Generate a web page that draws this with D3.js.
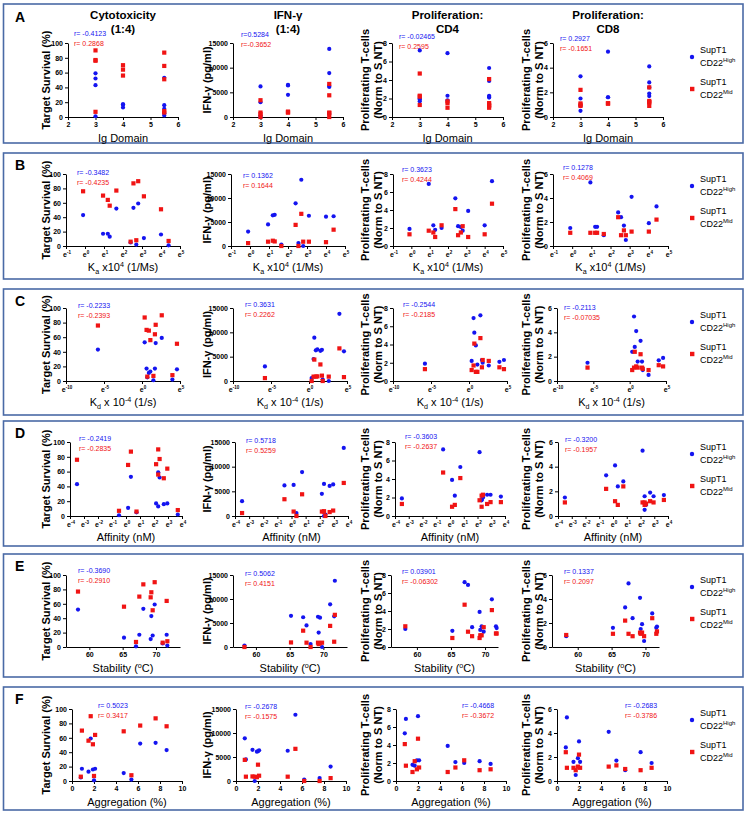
<!DOCTYPE html>
<html><head><meta charset="utf-8">
<script src="https://cdn.jsdelivr.net/npm/d3@7"></script>
<style>body{margin:0;background:#fff}svg{display:block}</style>
</head><body>
<svg id="c" width="750" height="813"></svg>
<script>
// ---- binder properties (12 binders, b1..b12) ----
const igDomain    = [5.5, 4, 4, 3, 5.5, 3, 4, 5.5, 5.5, 3, 5.5, 3];
const kaExp       = [2.4, 0.95, 1.3, 2.8, 4.0, 4.4, 1.2, 3.1, 2.7, 1.65, 2.55, -0.1];   // Ka x10^4 = e^kaExp
const kdExp       = [0.7, 0.6, 1.1, 2.6, 4.6, 1.5, 1.7, 0.9, 4.0, 1.8, 0.35, -5.8];    // Kd x10^-4 = e^kdExp
const affinityExp = [0.75, 2.15, 2.3, 2.3, 2.7, -0.5, 2.95, 0.15, 3.7, 2.4, 0.35, -3.5]; // nM = e^affinityExp
const stability   = [71.0, 67.5, 65.2, 69.8, 69.5, 67.0, 71.6, 69.2, 71.7, 58.3, 68.1, 69.3];
const aggregation = [0.8, 0.9, 1.5, 1.7, 1.9, 2.0, 2.1, 4.7, 5.4, 6.2, 7.6, 8.6];

// ---- responses: SupT1 CD22High (blue) and CD22Mid (red) ----
const survivalHigh = [5, 17, 13, 59, 16, 1, 17, 11, 2, 52, 53, 43];
const survivalMid  = [6, 70, 56, 90, 51, 7, 64, 69, 8, 77, 87, 76];
const ifnHigh      = [8900, 4500, 6500, 0, 6100, 6200, 6400, 6300, 13800, 300, 600, 3000];
const ifnMid       = [4400, 900, 950, 900, 800, 3400, 1100, 900, 6700, 0, 0, 600];
const cd4High      = [5.3, 6.9, 1.8, 1.7, 2.3, 7.2, 2.3, 3.9, 2.1, 2.0, 2.2, 1.9];
const cd4Mid       = [4.1, 1.7, 1.0, 2.2, 1.3, 4.7, 1.5, 1.0, 1.5, 2.3, 1.2, 1.3];
const cd8High      = [2.8, 5.3, 1.6, 0.5, 1.9, 3.3, 1.6, 4.1, 1.7, 0.9, 2.4, 1.5];
const cd8Mid       = [2.4, 1.1, 1.1, 0.9, 1.2, 2.2, 1.1, 1.2, 1.3, 1.0, 0.9, 1.1];

// ---- correlation labels per row (A..F) x column ----
const rHighLabels = [
  ["r= -0.4123", "r=0.5284", "r= -0.02465", "r= 0.2927"],
  ["r= -0.3482", "r= 0.1362", "r= 0.3623", "r= 0.1278"],
  ["r= -0.2233", "r= 0.3631", "r= -0.2544", "r= -0.2113"],
  ["r= -0.2419", "r= 0.5718", "r= -0.3603", "r= -0.3200"],
  ["r= -0.3690", "r= 0.5062", "r= 0.03901", "r= 0.1337"],
  ["r= 0.5023", "r= -0.2678", "r= -0.4668", "r= -0.2683"]
];
const rMidLabels = [
  ["r= 0.2868", "r=-0.3652", "r= 0.2595", "r= -0.1651"],
  ["r= -0.4235", "r= 0.1644", "r= 0.4244", "r= 0.4069"],
  ["r= -0.2393", "r= 0.2262", "r= -0.2185", "r= -0.07035"],
  ["r= -0.2835", "r= 0.5259", "r= -0.2637", "r= -0.1957"],
  ["r= -0.2910", "r= 0.4151", "r= -0.06302", "r= 0.2097"],
  ["r= 0.3417", "r= -0.1575", "r= -0.3672", "r= -0.3786"]
];

const rowLetters = ["A", "B", "C", "D", "E", "F"];
const colTitles = [["Cytotoxicity", "(1:4)"], ["IFN-γ", "(1:4)"], ["Proliferation:", "CD4"], ["Proliferation:", "CD8"]];
const igTicks = [2, 3, 4, 5, 6];
const kaTickExps = [-1, 0, 1, 2, 3, 4, 5];
const kdTickExps = [-10, -5, 0, 5];
const affTickExps = [-4, -3, -2, -1, 0, 1, 2, 3, 4];
const stabTicks = [60, 65, 70];
const aggTicks = [0, 2, 4, 6, 8, 10];
const survTicks = [0, 20, 40, 60, 80, 100];
const ifnTicks = [0, 5000, 10000, 15000];
const cd4Ticks = [0, 2, 4, 6, 8];
const cd8Ticks = [0, 2, 4, 6];

// ---- layout ----
const FONT = "'Liberation Sans', Arial, Helvetica, sans-serif";
const BLUE = "#1414f0", RED = "#f01414", BOX = "#4a6aa6";
const boxes = [[4, 143], [153, 279], [289, 415], [421, 546], [554, 677], [687, 810]];
const rowsY = [[43, 117], [174, 246], [308, 381], [442, 516], [575, 647], [709, 781]];
const colsX = [
  [[68, 178], [233, 343], [392, 503], [553, 663]],
  [[66, 180], [231, 345], [393, 503], [553, 668]],
  [[66, 180], [233, 347], [393, 507], [557, 666]],
  [[70, 182], [235, 348], [395, 505], [558, 668]],
  [[66, 180], [233, 347], [391, 498], [552, 659]],
  [[72, 182], [236, 346], [396, 506], [557, 667]]
];
const yTitleX = [[46], [207], [365, 378], [526, 539]];
const rPos = [
  [[74, 34], [241, 35], [399, 37], [560, 39]],
  [[77, 173], [243, 176], [402, 170], [563, 168]],
  [[78, 306], [245, 305], [403, 305], [564, 308]],
  [[79, 439], [246, 441], [405, 437], [565, 440]],
  [[78, 571], [245, 574], [402, 572], [564, 572]],
  [[98, 706], [245, 707], [462, 706], [625, 706]]
];

const rowsDef = [
  { x: igDomain, type: "lin", domain: [2, 6], ticks: igTicks, title: [["Ig Domain"]] },
  { x: kaExp.map(Math.exp), type: "log", domain: [Math.exp(-1), Math.exp(5)], ticks: kaTickExps,
    title: [["K"], ["a", "sub"], [" x10"], ["4", "sup"], [" (1/Ms)"]] },
  { x: kdExp.map(Math.exp), type: "log", domain: [Math.exp(-10), Math.exp(5)], ticks: kdTickExps,
    title: [["K"], ["d", "sub"], [" x 10"], ["-4", "sup"], [" (1/s)"]] },
  { x: affinityExp.map(Math.exp), type: "log", domain: [Math.exp(-4), Math.exp(4)], ticks: affTickExps,
    title: [["Affinity (nM)"]] },
  { x: stability, type: "lin", domain: [[56.5, 73.6], [56.6, 73.5], [56.2, 71.9], [56.2, 72.0]], ticks: stabTicks,
    title: [["Stability ("], ["o", "sup"], ["C)"]] },
  { x: aggregation, type: "lin", domain: [0, 10], ticks: aggTicks, title: [["Aggregation (%)"]] }
];
const colsDef = [
  { high: survivalHigh, mid: survivalMid, max: 100, ticks: survTicks, ytitle: ["Target Survival (%)"] },
  { high: ifnHigh, mid: ifnMid, max: 15000, ticks: ifnTicks, ytitle: ["IFN-γ (pg/ml)"] },
  { high: cd4High, mid: cd4Mid, max: 8, ticks: cd4Ticks, ytitle: ["Proliferating T-cells", "(Norm to S NT)"] },
  { high: cd8High, mid: cd8Mid, max: 6, ticks: cd8Ticks, ytitle: ["Proliferating T-cells", "(Norm to S NT)"] }
];

const svg = d3.select("#c").attr("font-family", FONT);
const fmtInt = d3.format("d");

function richText(g, parts, size) {
  let shift = 0;
  parts.forEach(p => {
    const t = g.append("tspan").text(p[0]);
    let target = 0;
    if (p[1] === "sup") { t.attr("font-size", size * 0.65); target = -size * 0.4; }
    else if (p[1] === "sub") { t.attr("font-size", size * 0.65); target = size * 0.25; }
    else t.attr("font-size", size);
    if (target - shift !== 0) t.attr("dy", target - shift);
    shift = target;
  });
}

rowsDef.forEach((row, ri) => {
  const [bt, bb] = boxes[ri];
  svg.append("rect").attr("x", 3.5).attr("y", bt).attr("width", 739.5).attr("height", bb - bt)
    .attr("fill", "none").attr("stroke", BOX).attr("stroke-width", 1.6);
  svg.append("text").attr("x", 15).attr("y", bt + (ri === 0 ? 18 : 17)).attr("font-size", 14)
    .attr("font-weight", "bold").text(rowLetters[ri]);

  const [yt, yb] = rowsY[ri];
  colsDef.forEach((col, ci) => {
    const [x0, x1] = colsX[ri][ci];
    const dom = Array.isArray(row.domain[0]) ? row.domain[ci] : row.domain;
    const xs = (row.type === "log" ? d3.scaleLog().base(Math.E) : d3.scaleLinear()).domain(dom).range([x0, x1]);
    const ys = d3.scaleLinear().domain([0, col.max]).range([yb, yt]);
    const g = svg.append("g");

    // y axis
    const ya = g.append("g").attr("transform", `translate(${x0},0)`)
      .call(d3.axisLeft(ys).tickValues(col.ticks).tickFormat(fmtInt).tickSize(3).tickSizeOuter(0).tickPadding(2));
    ya.selectAll("text").attr("font-size", 7).attr("font-weight", "bold").attr("font-family", FONT).attr("fill", "#000");
    ya.selectAll("line,path").attr("stroke", "#000");

    // x axis
    const tickVals = row.type === "log" ? row.ticks.map(Math.exp) : row.ticks;
    const xa = g.append("g").attr("transform", `translate(0,${yb})`)
      .call(d3.axisBottom(xs).tickValues(tickVals).tickSize(3).tickSizeOuter(0)
        .tickFormat(row.type === "log" ? () => "" : fmtInt).tickPadding(2));
    xa.selectAll("text").attr("font-size", 7).attr("font-weight", "bold").attr("font-family", FONT).attr("fill", "#000");
    xa.selectAll("line,path").attr("stroke", "#000");
    if (row.type === "log") {
      row.ticks.forEach(k => {
        const t = g.append("text").attr("x", xs(Math.exp(k)) + 1).attr("y", yb + 11)
          .attr("font-size", 7).attr("font-weight", "bold").attr("text-anchor", "middle");
        t.append("tspan").text("e");
        t.append("tspan").attr("font-size", 4.5).attr("dy", -3).text(k);
      });
    }

    // x title
    const xt = g.append("text").attr("x", (x0 + x1) / 2).attr("y", yb + 25).attr("text-anchor", "middle");
    richText(xt, row.title, 11);

    // y title
    const ycy = (yt + yb) / 2;
    col.ytitle.forEach((line, li) => {
      g.append("text").attr("transform", `translate(${yTitleX[ci][li]},${ycy}) rotate(-90)`)
        .attr("text-anchor", "middle").attr("dy", "0.35em").attr("font-size", 11)
        .attr("font-weight", "bold").text(line);
    });

    // column titles (row A only)
    if (ri === 0) {
      colTitles[ci].forEach((tl, li) => {
        g.append("text").attr("x", (x0 + x1) / 2).attr("y", 19 + li * 14).attr("text-anchor", "middle")
          .attr("font-size", 11.5).attr("font-weight", "bold").text(tl);
      });
    }

    // r labels
    const [rx, ry] = rPos[ri][ci];
    g.append("text").attr("x", rx).attr("y", ry).attr("dy", "0.35em").attr("font-size", 7).attr("fill", BLUE).text(rHighLabels[ri][ci]);
    g.append("text").attr("x", rx).attr("y", ry + 9.5).attr("dy", "0.35em").attr("font-size", 7).attr("fill", RED).text(rMidLabels[ri][ci]);

    // points
    const idx = d3.range(row.x.length);
    g.append("g").selectAll("circle").data(idx.filter(i => col.high[i] != null)).join("circle")
      .attr("cx", i => xs(row.x[i])).attr("cy", i => ys(col.high[i])).attr("r", 2.1).attr("fill", BLUE);
    g.append("g").selectAll("rect").data(idx.filter(i => col.mid[i] != null)).join("rect")
      .attr("x", i => xs(row.x[i]) - 2.1).attr("y", i => ys(col.mid[i]) - 2.1)
      .attr("width", 4.2).attr("height", 4.2).attr("fill", RED);
  });

  // legend
  const ly = bt + (ri === 0 ? 53 : 33);
  svg.append("circle").attr("cx", 692).attr("cy", ly).attr("r", 2.2).attr("fill", BLUE);
  svg.append("rect").attr("x", 690).attr("y", ly + 32 - 2.2).attr("width", 4.4).attr("height", 4.4).attr("fill", RED);
  [[ly, "High"], [ly + 32, "Mid"]].forEach(([yy, sup]) => {
    svg.append("text").attr("x", 700).attr("y", yy - 4).attr("font-size", 9).text("SupT1");
    const t = svg.append("text").attr("x", 700).attr("y", yy + 9).attr("font-size", 9);
    t.append("tspan").text("CD22");
    t.append("tspan").attr("font-size", 6).attr("dy", -4).text(sup);
  });
});
</script>
</body></html>
